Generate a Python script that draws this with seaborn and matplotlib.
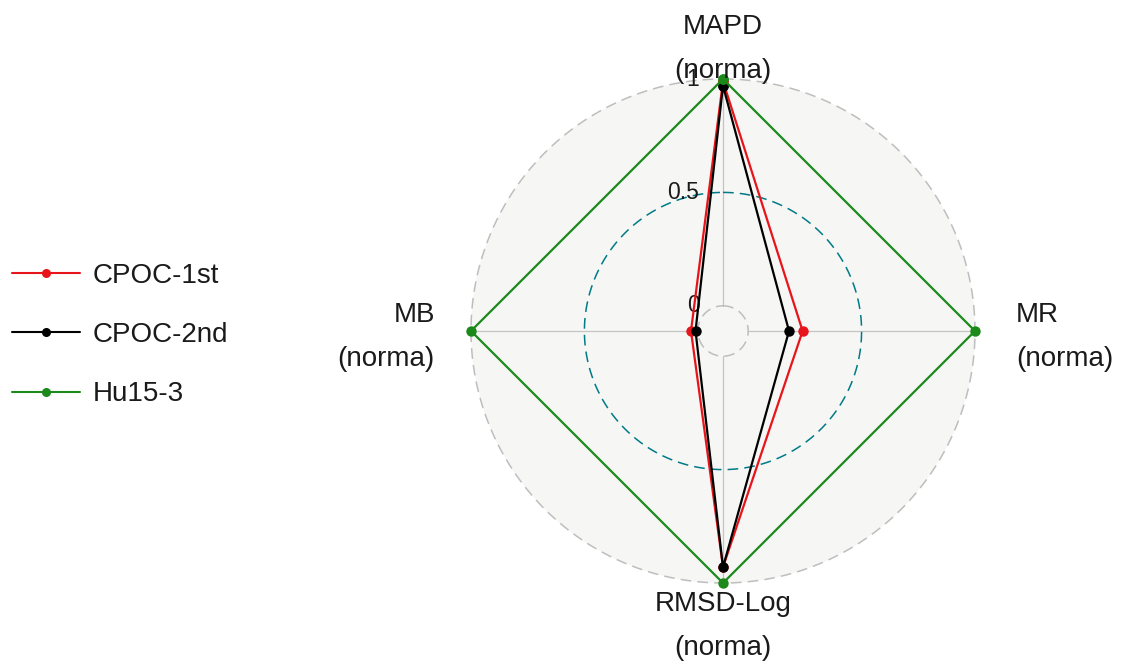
import numpy as np
import pandas as pd
import matplotlib
matplotlib.use("Agg")
import matplotlib.pyplot as plt
from matplotlib.lines import Line2D
import seaborn as sns

# ---- data ----
categories = ["MAPD\n(norma)", "MR\n(norma)", "RMSD-Log\n(norma)", "MB\n(norma)"]
series = ["CPOC-1st", "CPOC-2nd", "Hu15-3"]
cpoc_1st = [0.99, 0.24, 0.93, 0.03]
cpoc_2nd = [0.97, 0.18, 0.93, 0.01]
hu15_3 = [1.0, 1.0, 1.0, 1.0]
grid_values = [0.0, 0.5, 1.0]
grid_labels = ["0", "0.5", "1"]

colors = {"CPOC-1st": "#E8141B", "CPOC-2nd": "#000000", "Hu15-3": "#1B8A1B"}

sns.set_theme(style="white")
plt.rcParams["font.family"] = ["Liberation Sans", "DejaVu Sans"]

n = len(categories)
angles = [i * 2 * np.pi / n for i in range(n)]

rows = []
for name, vals in zip(series, [cpoc_1st, cpoc_2nd, hu15_3]):
    for a, v in zip(angles + [2 * np.pi], vals + [vals[0]]):
        rows.append({"series": name, "theta": a, "value": v})
df = pd.DataFrame(rows)

fig = plt.figure(figsize=(11.29, 6.61), dpi=100)
ax = fig.add_axes([471 / 1129, 78 / 661, 504 / 1129, 504 / 661], projection="polar")
ax.set_theta_zero_location("N")
ax.set_theta_direction(-1)
centre_y = -1 / 9
ax.set_ylim(centre_y, 1)
ax.set_facecolor("#F6F6F4")
ax.spines["polar"].set_visible(False)
ax.grid(False)
ax.set_xticks([])
ax.set_yticks([])

# axis lines
for a in angles:
    ax.plot([a, a], [0, 1], color="#C4C4C4", lw=0.9, zorder=1, clip_on=False)

# grid circles
th = np.linspace(0, 2 * np.pi, 500)
grid_cols = ["#BEBEBE", "#007A87", "#BEBEBE"]
for gv, gc in zip(grid_values, grid_cols):
    ax.plot(th, np.full_like(th, gv), color=gc, lw=1.1, dashes=(7, 4),
            zorder=1.5, clip_on=False)

# grid labels
for gv, gl in zip(grid_values, grid_labels):
    ax.annotate(gl, xy=(0, gv), xytext=(-17, 0), textcoords="offset points",
                ha="right", va="center", fontsize=16.5, color="#1A1A1A", zorder=2)

# series
sns.lineplot(data=df, x="theta", y="value", hue="series", palette=colors,
             sort=False, estimator=None, marker="o", markersize=7.5,
             markeredgewidth=0, linewidth=1.6, legend=False, ax=ax,
             clip_on=False, zorder=3)
ax.set_xlabel("")
ax.set_ylabel("")

# axis labels
label_pos = [(1.155, "center", -3.5), (1.181, "left", -4), (1.19, "center", 0),
             (1.159, "right", -4)]
for a, lab, (r, ha, dy) in zip(angles, categories, label_pos):
    ax.annotate(lab, xy=(a, r), xytext=(0, dy), textcoords="offset points",
                ha=ha, va="center", fontsize=20, linespacing=1.9,
                color="#1A1A1A", multialignment=ha, annotation_clip=False)

handles = [Line2D([], [], color=colors[s], marker="o", markersize=6.5,
                  markeredgewidth=0, lw=1.5) for s in series]
ax.legend(handles, series, loc="center left", bbox_to_anchor=(-0.911, 0.492),
          frameon=False, fontsize=20, handlelength=2.45, handletextpad=0.45,
          labelspacing=1.2, borderpad=0, borderaxespad=0,
          labelcolor="#1A1A1A")

fig.savefig("out.png", dpi=100, facecolor="white")
